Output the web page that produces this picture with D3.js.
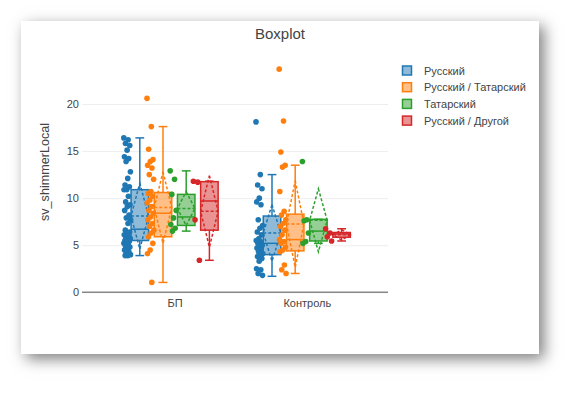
<!DOCTYPE html>
<html><head><meta charset="utf-8">
<script src="https://cdn.jsdelivr.net/npm/d3@7"></script>
<style>
html,body{margin:0;padding:0;background:#fff;overflow:hidden;}
#card{position:absolute;left:21px;top:21px;width:518px;height:333px;background:#fff;box-shadow:5px 5px 14px rgba(0,0,0,0.5);}
svg{position:absolute;left:0;top:0;}
text{font-family:"Liberation Sans",Arial,sans-serif;fill:#444;}
</style></head><body>
<div id="card"></div>
<svg id="chart" width="581" height="396"></svg>
<script>
const categories = ["БП", "Контроль"];
const seriesNames = ["Русский", "Русский / Татарский", "Татарский", "Русский / Другой"];
const yTicks = [0, 5, 10, 15, 20];

// box statistics, [category][series]
const lowerFence = [[3.9, 1.05, 6.5, 3.4], [1.7, 2.0, 5.2, 5.45]];
const q1 = [[5.5, 5.9, 7.1, 6.6], [4.0, 4.4, 5.45, 5.85]];
const median = [[6.7, 8.4, 8.0, 9.7], [5.2, 5.6, 6.5, 6.2]];
const q3 = [[10.9, 10.6, 10.4, 11.75], [8.1, 8.3, 7.75, 6.35]];
const upperFence = [[16.4, 17.6, 12.9, 11.8], [12.5, 13.5, 7.75, 6.75]];
const mean = [[8.1, 9.0, 8.9, 8.6], [6.3, 7.25, 7.65, 6.1]];
const sd = [[3.5, 3.8, 1.8, 3.8], [3.0, 4.6, 3.35, 0.55]];

// individual points, [series][...]
const pointsBP = [
  [16.4,16.2,15.8,15.6,15.1,14.4,14.2,13.9,12.8,12.1,11.4,11.2,10.9,10.9,10.2,9.6,9.3,9.1,8.7,8.2,7.9,7.7,7.3,6.6,6.4,6.3,6.1,5.9,5.8,5.7,5.6,5.5,5.4,5.3,5.2,5.0,4.9,4.8,4.6,4.5,4.3,4.1,4.0,3.9,3.9],
  [20.6,17.6,15.2,14.1,13.9,13.5,13.2,12.5,12.0,10.7,10.5,10.2,9.8,9.5,9.1,8.7,8.4,8.0,7.7,7.3,7.0,6.6,6.3,5.9,5.2,4.5,4.1,1.05],
  [12.9,12.0,10.4,8.7,7.9,7.2,6.8,6.5],
  [11.8,11.7,7.7,3.4]
];
const pointsControl = [
  [18.1,12.5,11.4,11.0,10.0,9.6,9.3,7.7,7.1,6.8,6.4,6.1,5.7,5.5,5.4,5.2,5.0,4.8,4.7,4.5,4.3,4.1,4.0,3.8,3.6,3.3,2.5,2.4,2.0,1.8],
  [23.7,18.2,14.9,13.5,13.3,10.7,8.6,8.2,7.7,7.3,7.0,6.6,6.1,5.6,5.4,5.2,4.8,4.5,4.3,2.9,2.4,2.0],
  [13.9,7.7,7.6,6.3,5.4,5.2],
  [6.75,6.3,5.9,5.45]
];
const pointsByCategory = [pointsBP, pointsControl];

const colors = ["#1f77b4", "#ff7f0e", "#2ca02c", "#d62728"];

const svg = d3.select("#chart");
const plotLeft = 82, plotRight = 388;

const x = d3.scalePoint().domain(categories).range([174.6, 306.8]);
const inner = d3.scaleBand().domain(seriesNames).range([-46.4, 46.4]);
const y = d3.scaleLinear().domain([0, 20]).range([292.3, 104]);

// grid + y axis
const ya = svg.append("g").attr("transform", `translate(${plotLeft},0)`)
  .call(d3.axisLeft(y).tickValues(yTicks).tickSize(-(plotRight - plotLeft)).tickPadding(3));
ya.select(".domain").remove();
ya.selectAll(".tick line").attr("stroke", "#eeeeee").attr("stroke-width", 1);
ya.selectAll(".tick text").style("font-size", "11px").attr("fill", "#444");

// zero line
svg.append("line").attr("x1", plotLeft).attr("x2", plotRight)
  .attr("y1", y(0)).attr("y2", y(0)).attr("stroke", "#888").attr("stroke-width", 1.5);

// x axis labels
const xa = svg.append("g").attr("transform", `translate(0,${y(0)})`)
  .call(d3.axisBottom(x).tickSize(0).tickPadding(7));
xa.select(".domain").remove();
xa.selectAll(".tick text").style("font-size", "11px").attr("fill", "#444");

// titles
svg.append("text").attr("x", 280).attr("y", 39).attr("text-anchor", "middle")
  .style("font-size", "15px").text("Boxplot");
svg.append("text").attr("transform", "translate(48.5,172) rotate(-90)")
  .attr("text-anchor", "middle").style("font-size", "12.6px").text("sv_shimmerLocal");

const hw = 8.75, capHw = 4.4;
const lw = 1.5;

categories.forEach((cat, ci) => {
  seriesNames.forEach((name, si) => {
    const cx = x(cat) + inner(name) + inner.bandwidth() / 2;
    const col = colors[si];
    const g = svg.append("g");
    // whiskers
    [[lowerFence[ci][si], q1[ci][si]], [q3[ci][si], upperFence[ci][si]]].forEach(([a, b]) => {
      g.append("line").attr("x1", cx).attr("x2", cx).attr("y1", y(a)).attr("y2", y(b))
        .attr("stroke", col).attr("stroke-width", lw);
    });
    [lowerFence[ci][si], upperFence[ci][si]].forEach(v => {
      g.append("line").attr("x1", cx - capHw).attr("x2", cx + capHw).attr("y1", y(v)).attr("y2", y(v))
        .attr("stroke", col).attr("stroke-width", lw);
    });
    // box
    g.append("rect").attr("x", cx - hw).attr("y", y(q3[ci][si]))
      .attr("width", 2 * hw).attr("height", y(q1[ci][si]) - y(q3[ci][si]))
      .attr("fill", col).attr("fill-opacity", 0.5).attr("stroke", col).attr("stroke-width", lw);
    // median
    g.append("line").attr("x1", cx - hw).attr("x2", cx + hw)
      .attr("y1", y(median[ci][si])).attr("y2", y(median[ci][si]))
      .attr("stroke", col).attr("stroke-width", lw);
    // mean + sd diamond
    const m = mean[ci][si], s = sd[ci][si];
    const path = d3.path();
    path.moveTo(cx - hw, y(m)); path.lineTo(cx + hw, y(m));
    path.moveTo(cx, y(m + s)); path.lineTo(cx + hw, y(m)); path.lineTo(cx, y(m - s));
    path.lineTo(cx - hw, y(m)); path.closePath();
    g.append("path").attr("d", path.toString()).attr("fill", "none")
      .attr("stroke", col).attr("stroke-width", lw).attr("stroke-dasharray", "3,2");
    // points
    const pts = pointsByCategory[ci][si];
    g.selectAll("circle").data(pts).join("circle")
      .attr("cx", (d, i) => cx - 12.5 + (((i * 0.618034) % 1) - 0.5) * 7)
      .attr("cy", d => y(d)).attr("r", 2.8).attr("fill", col);
  });
});

// legend
const lg = svg.append("g");
seriesNames.forEach((name, i) => {
  const ry = 70.5 + i * 16.7;
  lg.append("rect").attr("x", 402.5).attr("y", ry - 4.5).attr("width", 9).attr("height", 9)
    .attr("fill", colors[i]).attr("fill-opacity", 0.5).attr("stroke", colors[i]).attr("stroke-width", 1.5);
  lg.append("text").attr("x", 424).attr("y", ry + 4).style("font-size", "11px").text(name);
});
</script>
</body></html>
